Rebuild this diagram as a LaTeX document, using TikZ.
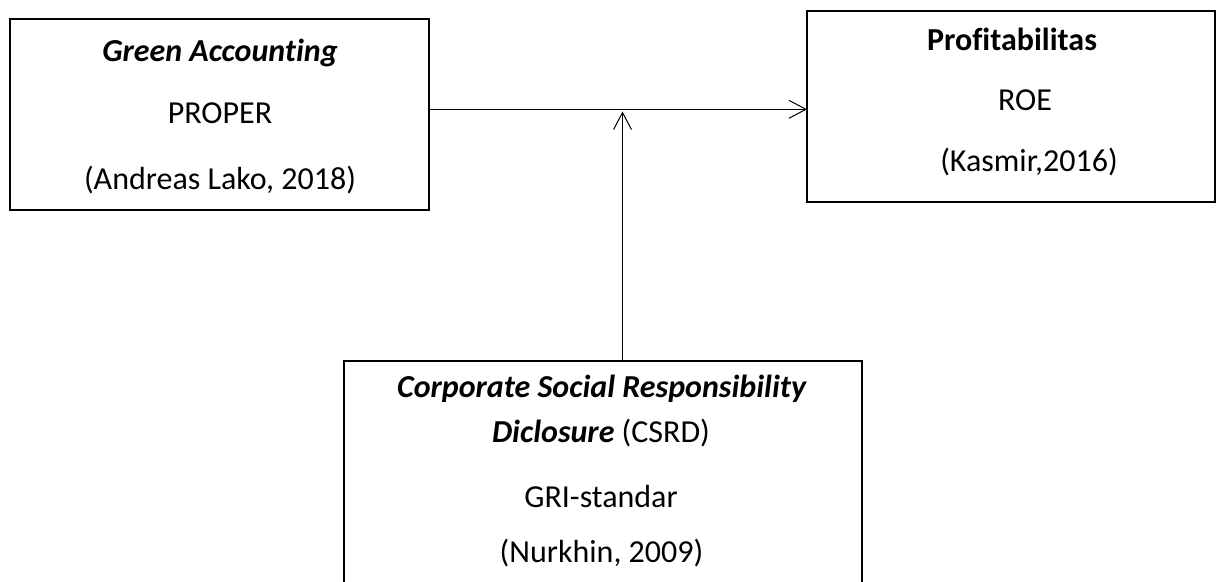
\documentclass[tikz,border=0pt]{standalone}
\usepackage{fontspec}
\setmainfont{Carlito}[Ligatures=CommonOff]
\usetikzlibrary{arrows.meta}
\begin{document}
\begin{tikzpicture}[x=1pt,y=-1pt,
  boxshape/.style={draw=black,line width=1.7pt,inner sep=0pt,outer sep=0pt},
  txt/.style={inner sep=0pt,anchor=base,font=\fontsize{32}{38}\selectfont},
  conn/.style={draw=black,line width=1pt,-{Straight Barb[length=17pt,width=18pt,line width=1pt]}}]
\useasboundingbox (0,0) rectangle (1217,581);
\clip (0,0) rectangle (1217,581);
% boxes
\node[boxshape,minimum width=419pt,minimum height=191pt] (ga) at (219.5,114.5) {};
\node[boxshape,minimum width=408pt,minimum height=191pt] (pr) at (1011,106.5) {};
\node[boxshape,minimum width=518pt,minimum height=259pt] (csr) at (603,490.5) {};
% texts left
\node[txt] (ga1) at (220,61.5) {\textbf{\textit{Green Accounting}}};
\node[txt] (ga2) at (220,123.5) {PROPER};
\node[txt] (ga3) at (220,189.5) {(Andreas Lako, 2018)};
% texts right
\node[txt] (pr1) at (1012,50) {\textbf{Profitabilitas}};
\node[txt] (pr2) at (1025,110) {ROE};
\node[txt] (pr3) at (1029,171.5) {(Kasmir,2016)};
% texts bottom
\node[txt] (cs1) at (602,397) {\textbf{\textit{Corporate Social Responsibility}}};
\node[txt] (cs2) at (601,442) {\textbf{\textit{Diclosure}} (CSRD)};
\node[txt] (cs3) at (601,507) {GRI-standar};
\node[txt] (cs4) at (601.5,562) {(Nurkhin, 2009)};
% connectors
\coordinate (jr) at (0,109.3);
\coordinate (jv) at (622.5,111.5);
\draw[conn] (ga.east |- jr) -- (pr.west |- jr);
\draw[conn] (csr.north -| jv) -- (jv);
\end{tikzpicture}
\end{document}
